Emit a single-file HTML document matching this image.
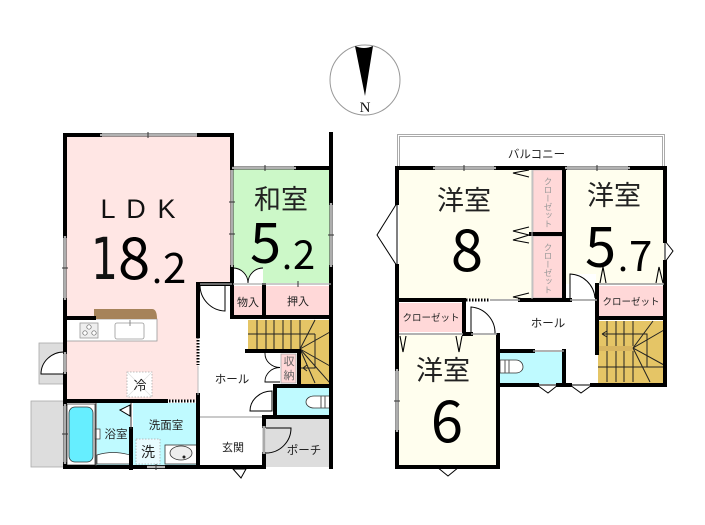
<!DOCTYPE html>
<html><head><meta charset="utf-8"><style>
html,body{margin:0;padding:0;background:#fff}
svg{display:block}
text{font-family:"DejaVu Sans","Noto Sans CJK JP",sans-serif;fill:#111}
.j{font-family:"Noto Sans CJK JP",sans-serif;fill:#222}
.n{font-family:"Noto Sans CJK JP",sans-serif;fill:#000}
.w{stroke:#000;stroke-width:4;fill:none;stroke-linecap:square}
.t{stroke:#222;stroke-width:1;fill:none}
.win{stroke:#333;stroke-width:3;fill:none}
.wi{stroke:#fff;stroke-width:1.2;fill:none}
</style></head><body>
<svg width="705" height="525" viewBox="0 0 705 525" xmlns="http://www.w3.org/2000/svg">
<rect width="705" height="525" fill="#fff"/>
<!-- compass -->
<circle cx="365" cy="80" r="35" fill="#fff" stroke="#999" stroke-width="1"/>
<path d="M355 46 Q364 50 373 46 L365 96Z" fill="#000"/>
<text x="365" y="112" text-anchor="middle" font-size="15" style="font-family:'Liberation Serif',serif">N</text>

<!-- 1F fills -->
<path d="M65 135H232V284H198V400H65Z" fill="#ffe6e4"/>
<rect x="66" y="319" width="91" height="22" fill="#fff" stroke="#999" stroke-width=".8"/>
<path d="M94 309H152Q157 309 157 319H94Z" fill="#a6835a"/>
<rect x="80" y="323" width="18" height="15" fill="#eee" stroke="#999" stroke-width=".8"/>
<circle cx="89" cy="327" r="2.2" fill="#fff" stroke="#666" stroke-width=".7"/><circle cx="85" cy="333" r="2.2" fill="#fff" stroke="#666" stroke-width=".7"/><circle cx="94" cy="333" r="2.2" fill="#fff" stroke="#666" stroke-width=".7"/>
<rect x="115" y="323" width="29" height="16" rx="2" fill="#fff" stroke="#999" stroke-width=".8"/>
<path d="M130 320v6" stroke="#888"/>
<rect x="127" y="372" width="25" height="25" fill="#fff" stroke="#aaa" stroke-width=".8" stroke-dasharray="1.5 1.5"/>
<path d="M127 372l25 25M152 372l-25 25" stroke="#ddd" stroke-width=".7"/>
<rect x="233" y="169" width="97" height="114" fill="#ccf8c8"/>
<rect x="233" y="286" width="30" height="31" fill="#ffd8d8"/>
<rect x="264" y="286" width="66" height="30" fill="#ffd8d8"/>
<rect x="248" y="320" width="82" height="30" fill="#e5c566"/>
<rect x="299" y="320" width="31" height="64" fill="#e5c566"/>
<rect x="281" y="354" width="15" height="29" fill="#ffd8d8" stroke="#aaa" stroke-width=".8"/>
<rect x="275" y="387" width="55" height="29" fill="#bffaff"/>
<rect x="266" y="419" width="65" height="48" fill="#ddd"/>
<rect x="31" y="401" width="33" height="66" fill="#ddd" stroke="#aaa" stroke-width=".8"/>
<rect x="39" y="343" width="25" height="41" fill="#ddd" stroke="#aaa" stroke-width=".8"/>
<rect x="97" y="403" width="33" height="62" fill="#bffaff"/>
<rect x="133" y="403" width="65" height="63" fill="#bffaff"/>
<rect x="67" y="404" width="28" height="61" fill="#fff" stroke="#333" stroke-width=".8"/>
<rect x="69" y="407" width="24" height="55" rx="6" fill="#66eeff" stroke="#333" stroke-width=".8"/>
<rect x="95" y="429" width="5" height="10" fill="#fff" stroke="#333" stroke-width=".7"/>
<path d="M97 455Q113 450 130 455V464H97Z" fill="#fff" stroke="#333" stroke-width=".7"/>
<rect x="136" y="439" width="24" height="25" fill="#e8fbff" stroke="#aaa" stroke-width=".8" stroke-dasharray="1.5 1.5"/>
<rect x="165" y="445" width="32" height="19" fill="#fff" stroke="#333" stroke-width=".8"/>
<ellipse cx="181" cy="453" rx="11" ry="7" fill="#eee" stroke="#333" stroke-width=".8"/>
<circle cx="184" cy="457" r="1.5" fill="#222"/>

<!-- 1F stairs -->
<path class="t" d="M248 334H315M257 320V350M266 320V350M274 320V350M283 320V350M291 320V350M300 320V350M300 349L315 320M300 349L330 332M300 349L330 366M300 349L330 383M300 349L315 383M315 334V368H301"/>
<path class="t" d="M303 368h9m-9 0l4-3m-4 3l4 3"/>

<!-- 1F door leaves -->
<path d="M64 352A23 22 0 0 0 41 374H64" fill="#fff" stroke="#000" stroke-width="1"/>
<path d="M200 285A26 26 0 0 0 225 311V285" fill="#fff" stroke="#000" stroke-width="1"/>
<path d="M233 268A15 15 0 0 1 248 283A15 15 0 0 1 263 268V283H233Z" fill="#fff"/>
<path d="M233 268A15 15 0 0 1 248 283A15 15 0 0 1 263 268" fill="none" stroke="#000" stroke-width=".9"/>
<path d="M265 353A15 14 0 0 0 280 367.500A15 14 0 0 0 265 382H280" fill="none" stroke="#000" stroke-width=".9"/>
<path d="M272 391A22 20 0 0 0 250 411H272Z" fill="#fff" stroke="#000" stroke-width="1"/>
<path d="M266 453A25 25 0 0 0 291 428H266" fill="#ddd" stroke="#000" stroke-width="1"/>
<path d="M120 410L130 405V416Z" fill="#fff" stroke="#000" stroke-width="1"/>
<path d="M306 402a8 6 0 0 1 8-6h16v12h-16a8 6 0 0 1-8-6z" fill="#fff" stroke="#333" stroke-width=".8"/>
<path d="M321 396v12M325 396v12" stroke="#555"/>

<!-- 1F walls -->
<path class="w" d="M65 135H100M65 135V236M65 300V352M65 374V401M65 401V404M65 464V467M65 467H198M65 318H94M65 401H166"/>
<path class="w" d="M199 135H232V168M296 168H331M331 134V203M331 267V467M232 267V317M232 317H331M264 285V317"/>
<path class="w" d="M198 284V336M198 395V467M198 467H264M198 284H232M247 351H299M299 351V385M275 386H331M275 386V417M264 417H331M264 417V426M264 454V467M131 429V468"/>
<path d="M198 337V365" stroke="#000" stroke-width="3" stroke-dasharray="1.5 1.5"/>
<path d="M166 401H198" stroke="#000" stroke-width="3" stroke-dasharray="1.5 1.5"/>
<path d="M198 366V395" stroke="#bbb" stroke-width="1"/>
<path d="M200 417H262M233 284H331M200 284H232" stroke="#aaa" stroke-width="1.3"/>
<path d="M96 403V466M131 403V429" stroke="#333" stroke-width="1"/>
<path d="M264 426V454" stroke="#aaa" stroke-width="3"/>
<!-- 1F windows -->
<path class="win" d="M100 135H197M65 236V300M65 404V464M232 170V267M232 168H296M331 203V267M147 467H165M65 352V374"/>
<path class="wi" d="M100 135H197M65 236V300M65 404V464M232 170V267M232 168H296M331 203V267M147 467H165M65 352V374"/>
<path d="M148 132v6M62 268h6M62 434h6M229 202h6M229 234h6M265 165v6M328 235h6M156 464v6M298 281v6" stroke="#333" stroke-width="1"/>
<path d="M233 469L241 478L246 469Z" fill="#fff" stroke="#000" stroke-width="1"/>

<!-- 2F fills -->
<rect x="397.500" y="134.500" width="267" height="33" fill="#fff" stroke="#aaa"/>
<rect x="399.500" y="136.500" width="263" height="31" fill="none" stroke="#aaa"/>
<rect x="399" y="170" width="133" height="129" fill="#fffeee"/>
<rect x="533" y="170" width="30" height="63" fill="#ffd8d8" stroke="#bbb" stroke-width=".8"/>
<rect x="533" y="236" width="30" height="62" fill="#ffd8d8" stroke="#bbb" stroke-width=".8"/>
<rect x="566" y="170" width="98" height="114" fill="#fffeee"/>
<rect x="570" y="274" width="26" height="25" fill="#fff"/>
<rect x="599" y="286" width="64" height="31" fill="#ffd8d8"/>
<rect x="399" y="303" width="64" height="29" fill="#ffd8d8"/>
<rect x="399" y="335" width="98" height="131" fill="#fffeee"/>
<rect x="500" y="352" width="64" height="32" fill="#bffaff"/>
<rect x="598" y="321" width="66" height="62" fill="#e5c566"/>
<rect x="598" y="346" width="36" height="5" fill="#d8b560"/>
<!-- 2F bays -->
<path d="M397 203L377 235L397 266Z" fill="#fff" stroke="#000" stroke-width="1"/>
<path d="M665 241L673 251L665 262Z" fill="#fff" stroke="#000" stroke-width="1"/>
<path d="M437 467L448 476L459 467Z" fill="#fff" stroke="#000" stroke-width="1"/>
<path d="M537 385L548 393L558 385Z" fill="#fff" stroke="#000" stroke-width="1"/>
<path d="M570 385L581 393L592 385Z" fill="#fff" stroke="#000" stroke-width="1"/>
<!-- 2F stairs -->
<path class="t" d="M598 367H664M607 321V346M616 321V346M624 321V346M633 321V346M607 351V382M616 351V382M624 351V382M633 351V382M633 348L653 321M633 348L664 330M633 348L664 365M633 348L650 382M606 334H647V367"/>
<path class="t" d="M602 334h12m-12 0l5-3m-5 3l5 3"/>
<path d="M529 170L513 173L529 177M529 227L513 231L529 235L513 240L529 243M529 293L513 297L529 300M600 283L603 267L606 283M656 283L659 267L663 283M400 336L403 352L406 336M456 336L459 352L462 336" fill="none" stroke="#000" stroke-width="1.1"/>
<path d="M570 298V274A26 26 0 0 1 595 298" fill="#fff" stroke="#000" stroke-width="1"/>
<path d="M471 334V307A26 26 0 0 1 495 334" fill="#fff" stroke="#000" stroke-width="1"/>
<path d="M500 360h16a7 7 0 0 1 7 7a7 6 0 0 1-7 6h-16z" fill="#fff" stroke="#333" stroke-width=".8"/>
<path d="M505 360v13M509 360v13" stroke="#555"/>
<!-- 2F walls -->
<path class="w" d="M397 168H433M496 168H565M630 168H665M397 168V203M397 266V369M397 432V467M397 467H498M498 335V467M397 300H463M520 300H570M464 300V334M464 334H471M564 168V300M531 234H564M665 168V241M665 262V385M597 285V353M597 318H665M498 351H533M564 351V385M498 385H537M558 385H570M592 385H665"/>
<path d="M463 300H490M500 351H533" stroke="#000" stroke-width="3" stroke-dasharray="1.5 1.5"/>
<path d="M490 300H520M570 300H597M533 351H564M471 334H497M599 284H664M399 334H463" stroke="#999" stroke-width="1.500"/>
<path d="M532 170V299" stroke="#bbb" stroke-width="1"/>
<path class="win" d="M433 168H496M565 168H630M397 369V432"/>
<path class="wi" d="M433 168H496M565 168H630M397 369V432"/>
<path d="M464 165v6M597 165v6M394 401h6" stroke="#333" stroke-width="1"/>

<!-- labels -->
<text x="138" y="218" text-anchor="middle" font-size="27" textLength="75" lengthAdjust="spacing" style="font-family:'Liberation Sans',sans-serif">L D K</text>
<text x="91" y="279" font-size="58" textLength="27" lengthAdjust="spacingAndGlyphs">1</text>
<text x="118" y="279" font-size="58" class="n">8</text>
<text x="152" y="283" font-size="36" class="n">.</text>
<text x="163" y="283" font-size="42" class="n">2</text>
<text x="281" y="209" text-anchor="middle" font-size="27" class="j">和室</text>
<text x="250" y="263" font-size="56" class="n">5</text>
<text x="282" y="269" font-size="36" class="n">.</text>
<text x="293" y="269" font-size="40" class="n">2</text>
<text x="248" y="306" text-anchor="middle" font-size="11" class="j">物入</text>
<text x="298" y="305" text-anchor="middle" font-size="11" class="j">押入</text>
<text x="140" y="390" text-anchor="middle" font-size="13" class="j">冷</text>
<text x="116" y="438" text-anchor="middle" font-size="11.500" class="j">浴室</text>
<text x="166" y="429" text-anchor="middle" font-size="11.500" class="j">洗面室</text>
<text x="148" y="457" text-anchor="middle" font-size="14" class="j">洗</text>
<text x="232" y="383" text-anchor="middle" font-size="11.500" class="j">ホール</text>
<text x="233" y="451" text-anchor="middle" font-size="11" class="j">玄関</text>
<text x="304" y="454" text-anchor="middle" font-size="11.500" class="j">ポーチ</text>
<text x="289" y="365" text-anchor="middle" font-size="11" class="j" style="fill:#666">収</text>
<text x="289" y="379" text-anchor="middle" font-size="11" class="j" style="fill:#666">納</text>

<text x="536.500" y="158" text-anchor="middle" font-size="11.500" class="j">バルコニー</text>
<text x="464" y="210" text-anchor="middle" font-size="27" class="j">洋室</text>
<text x="467" y="271" text-anchor="middle" font-size="58" class="n">8</text>
<text x="614" y="205" text-anchor="middle" font-size="27" class="j">洋室</text>
<text x="585" y="267" font-size="56" class="n">5</text>
<text x="618" y="271" font-size="36" class="n">.</text>
<text x="629" y="271" font-size="42" class="n">7</text>
<text x="443" y="380" text-anchor="middle" font-size="27" class="j">洋室</text>
<text x="447" y="442" text-anchor="middle" font-size="58" class="n">6</text>
<text x="431" y="321" text-anchor="middle" font-size="9.500" class="j">クローゼット</text>
<text x="631" y="305" text-anchor="middle" font-size="9.500" class="j">クローゼット</text>
<text x="548" y="327" text-anchor="middle" font-size="11.500" class="j">ホール</text>
<text x="548" y="177" font-size="8.500" class="j" style="writing-mode:vertical-rl;fill:#999">クローゼット</text>
<text x="548" y="243" font-size="8.500" class="j" style="writing-mode:vertical-rl;fill:#999">クローゼット</text>
</svg>
</body></html>
